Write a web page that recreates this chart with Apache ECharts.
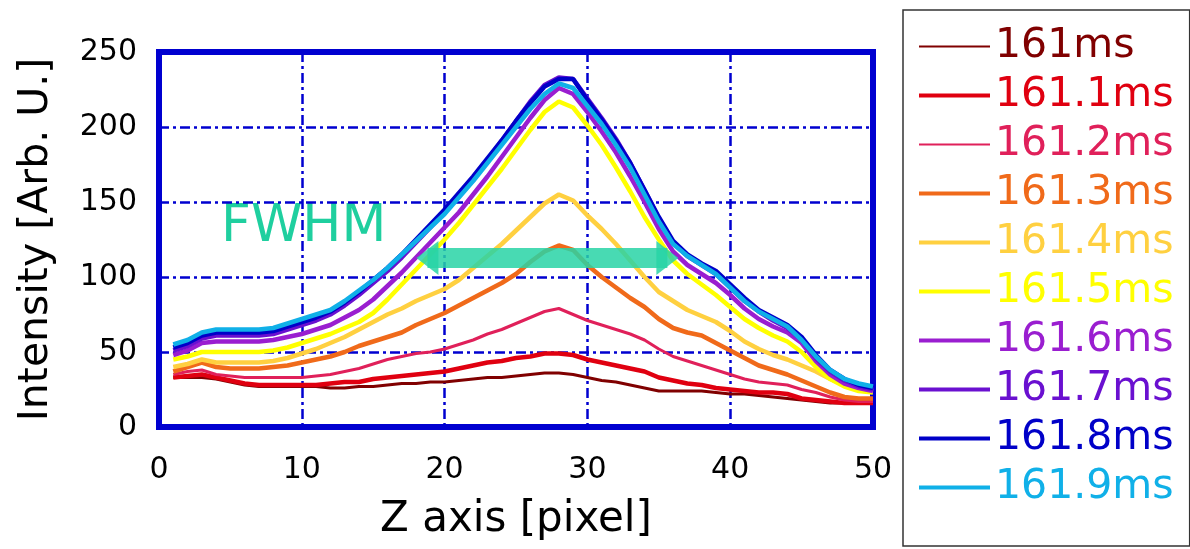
<!DOCTYPE html>
<html>
<head>
<meta charset="utf-8">
<script src="https://cdn.jsdelivr.net/npm/echarts@6/dist/echarts.min.js"></script>
<style>
  html, body { margin: 0; padding: 0; background: #fff; }
  #chart { width: 1190px; height: 549px; }
</style>
</head>
<body>
<div id="chart"></div>
<script>
// z position along the axis (pixel index)
const zPixel = [1,2,3,4,5,6,7,8,9,10, 11,12,13,14,15,16,17,18,19,20,
  21,22,23,24,25,26,27,28,29,30, 31,32,33,34,35,36,37,38,39,40,
  41,42,43,44,45,46,47,48,49,50];

// intensity profiles, one per time step
const t161_0 = [33,33,33,32,30,28,27,27,27,27, 27,26,26,27,27,28,29,29,30,30,
  31,32,33,33,34,35,36,36,35,33, 31,30,28,26,24,24,24,24,23,22,
  22,21,20,19,18,17,16,16,16,16];
const t161_1 = [33,34,35,33,31,29,28,28,28,28, 28,29,30,30,32,33,34,35,36,37,
  39,41,43,44,46,47,49,49,48,45, 43,41,39,37,33,31,29,28,26,25,
  24,23,23,22,19,18,17,16,16,16];
const t161_2 = [35,37,38,35,34,33,33,33,33,33, 34,35,37,39,42,45,47,49,50,52,
  55,58,62,65,69,73,77,79,75,71, 68,65,62,58,52,47,44,41,38,35,
  32,30,29,28,25,23,20,18,17,17];
const t161_3 = [37,40,43,40,39,39,39,40,41,43, 45,47,50,54,57,60,63,68,72,76,
  81,86,91,96,102,110,117,121,118,108, 100,93,86,80,72,66,63,61,56,51,
  46,41,38,35,31,27,23,20,19,19];
const t161_4 = [40,42,45,43,43,43,43,44,46,49, 52,56,60,65,70,75,79,84,88,92,
  98,106,114,122,131,140,149,155,151,141, 132,122,111,100,90,84,78,74,70,64,
  57,52,48,45,41,37,32,28,25,24];
const t161_5 = [45,47,50,50,50,50,50,51,53,56, 59,62,66,70,76,85,95,105,115,125,
  136,148,160,172,185,198,210,217,213,201, 188,173,157,140,125,111,102,95,88,80,
  72,66,61,57,50,40,32,27,24,23];
const t161_6 = [48,51,56,57,57,57,57,58,60,62, 65,68,73,78,85,94,103,113,123,133,
  143,155,167,180,193,206,218,226,222,210, 197,183,167,150,132,117,108,102,96,88,
  79,72,67,63,56,44,35,29,26,24];
const t161_7 = [51,54,59,61,61,61,61,62,65,68, 71,75,81,88,96,104,113,123,133,143,
  154,166,178,191,204,217,228,233,232,219, 206,192,176,158,139,123,114,108,102,93,
  84,77,71,66,58,46,37,31,27,25];
const t161_8 = [53,56,61,63,63,63,63,64,67,70, 73,77,83,90,98,106,115,125,135,145,
  156,167,179,191,204,216,227,232,232,218, 205,191,176,158,140,124,115,109,104,95,
  86,78,73,68,60,48,38,32,28,26];
const t161_9 = [55,58,63,65,65,65,65,66,69,72, 75,78,84,91,98,106,115,124,133,142,
  153,164,176,188,200,212,222,229,226,214, 202,188,173,155,137,122,114,108,102,93,
  84,77,72,67,58,47,38,32,29,27];

const timeLabels = ['161ms','161.1ms','161.2ms','161.3ms','161.4ms',
  '161.5ms','161.6ms','161.7ms','161.8ms','161.9ms'];
const profiles = [t161_0,t161_1,t161_2,t161_3,t161_4,t161_5,t161_6,t161_7,t161_8,t161_9];

// FWHM arrow: level and ends in data units
const fwhmLevel = 112.7;
const fwhmFrom = 18.8;
const fwhmTo = 35.6;

const xTicks = [0, 10, 20, 30, 40, 50];
const yTicks = [0, 50, 100, 150, 200, 250];

const colors = ['#800000','#e00010','#e0205a','#f06a1a','#ffd040',
  '#ffff00','#9a1ed0','#6a10d0','#0000c8','#10b0e8'];
const widths = [3, 4.5, 3, 4.5, 4.5, 4.5, 4.5, 4.5, 4.5, 4.5];
const legendWidths = [2, 4, 2, 4, 4, 4, 4, 4, 4, 4];

const font = 'DejaVu Sans';
const frameBlue = '#0000d0';

const chart = echarts.init(document.getElementById('chart'), null, { renderer: 'canvas' });

const series = profiles.map((vals, i) => {
  const s = {
    name: timeLabels[i],
    type: 'line',
    symbol: 'none',
    showSymbol: false,
    animation: false,
    data: zPixel.map((z, k) => [z, vals[k]]),
    lineStyle: { color: colors[i], width: widths[i] },
    itemStyle: { color: colors[i] },
    emphasis: { disabled: true }
  };
  if (i === profiles.length - 1) {
    s.markLine = {
      silent: true,
      animation: false,
      symbol: ['triangle', 'triangle'],
      symbolSize: [34, 22],
      label: { show: false },
      lineStyle: { color: 'rgba(40,212,166,0.85)', width: 20, type: 'solid' },
      data: [[{ coord: [fwhmFrom, fwhmLevel] }, { coord: [fwhmTo, fwhmLevel] }]]
    };
  }
  return s;
});

const option = {
  backgroundColor: '#fff',
  animation: false,
  grid: {
    left: 159, right: 317, top: 52, bottom: 122,
    show: true, borderColor: frameBlue, borderWidth: 6, backgroundColor: 'transparent'
  },
  xAxis: {
    type: 'value',
    min: xTicks[0], max: xTicks[xTicks.length - 1], interval: 10,
    name: 'Z axis [pixel]',
    nameLocation: 'middle',
    nameGap: 72,
    nameTextStyle: { fontFamily: font, fontSize: 42, color: '#000' },
    axisLine: { show: false },
    axisTick: { show: false },
    axisLabel: { fontFamily: font, fontSize: 30, color: '#000', margin: 28 },
    splitLine: { show: true, lineStyle: { color: frameBlue, width: 2.5, type: [10, 4, 3, 4] } }
  },
  yAxis: {
    type: 'value',
    min: yTicks[0], max: yTicks[yTicks.length - 1], interval: 50,
    name: 'Intensity [Arb. U.]',
    nameLocation: 'middle',
    nameGap: 102,
    nameTextStyle: { fontFamily: font, fontSize: 41, color: '#000' },
    axisLine: { show: false },
    axisTick: { show: false },
    axisLabel: { fontFamily: font, fontSize: 30, color: '#000', margin: 22 },
    splitLine: { show: true, lineStyle: { color: frameBlue, width: 2.5, type: [10, 4, 3, 4] } }
  },
  legend: {
    orient: 'vertical',
    left: 903,
    top: 10,
    padding: [16, 16, 38, 14],
    itemWidth: 71,
    itemHeight: 20,
    itemGap: 8,
    backgroundColor: '#fff',
    borderColor: '#333',
    borderWidth: 1.5,
    selectedMode: false,
    itemStyle: { opacity: 0 },
    data: timeLabels.map((n, i) => ({
      name: n,
      lineStyle: { color: colors[i], width: legendWidths[i] },
      textStyle: { color: colors[i], fontFamily: font, fontSize: 41 }
    })),
    textStyle: { fontFamily: font, fontSize: 41 }
  },
  graphic: [{
    type: 'text',
    left: 221,
    top: 201,
    silent: true,
    style: {
      text: 'FWHM',
      fill: '#1fcf9f',
      font: '52px "DejaVu Sans"'
    }
  }],
  series: series
};

chart.setOption(option);
</script>
</body>
</html>
